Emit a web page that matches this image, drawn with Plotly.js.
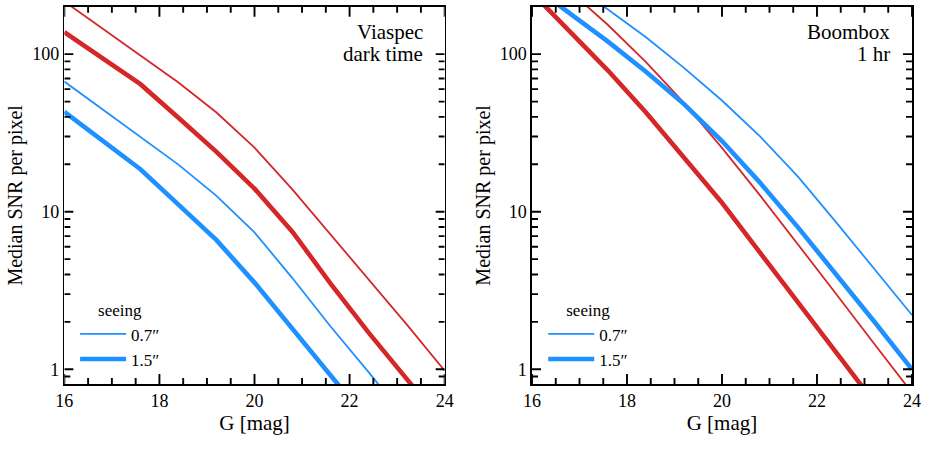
<!DOCTYPE html>
<html>
<head>
<meta charset="utf-8">
<script src="https://cdn.plot.ly/plotly-3.0.1.min.js"></script>
<style>
  html, body { margin: 0; padding: 0; background: #fff; }
  #chart { width: 927px; height: 459px; }
</style>
</head>
<body>
<div id="chart"></div>
<script>
// G magnitude grid shared by every curve
const gMag = [16, 16.8, 17.6, 18.4, 19.2, 20.0, 20.8, 21.6, 22.4, 23.2, 24.0];

// Viaspec, dark time: median SNR per pixel
const viaspec10hrSeeing07 = [216, 145, 97, 66, 42.6, 25.5, 13.8, 7.2, 3.7, 1.93, 0.98];
const viaspec10hrSeeing15 = [138, 95, 64.5, 39.5, 24, 14, 7.45, 3.5, 1.71, 0.87, 0.44];
const viaspec1hrSeeing07  = [67, 44.8, 29.8, 19.9, 12.6, 7.4, 3.78, 1.87, 0.96, 0.48, 0.24];
const viaspec1hrSeeing15  = [43, 28.4, 18.6, 11.1, 6.6, 3.55, 1.8, 0.91, 0.46, 0.23, 0.12];

// Boombox, 1 hr: median SNR per pixel
const boomboxBrightSeeing07 = [398, 251, 153, 89, 49, 25.4, 12.7, 6.24, 3.02, 1.46, 0.71];
const boomboxBrightSeeing15 = [245, 140, 78.7, 42.6, 22.1, 11.4, 5.5, 2.66, 1.29, 0.62, 0.30];
const boomboxDarkSeeing07   = [404, 284, 192, 128, 81.8, 50.8, 30.1, 16.7, 8.6, 4.35, 2.21];
const boomboxDarkSeeing15   = [273, 181, 120, 77.3, 48.2, 28.1, 15.3, 7.96, 4.04, 2.02, 1.0];

// Axis limits, tick labels and tick positions
const xLimits = [16, 24];
const yLimits = [0.807, 200];
const xTickVals = [16, 18, 20, 22, 24];
const xTickText = ['16', '18', '20', '22', '24'];
const xMinorVals = [16.5, 17, 17.5, 18.5, 19, 19.5, 20.5, 21, 21.5, 22.5, 23, 23.5];
const yTickVals = [1, 10, 100];
const yTickText = ['1', '10', '100'];
const yMinorVals = [0.9, 2, 3, 4, 5, 6, 7, 8, 9, 20, 30, 40, 50, 60, 70, 80, 90];
const seeingLabels = ['0.7\u2033', '1.5\u2033'];

const RED = '#d62728';
const BLUE = '#1e90ff';
const FONT = 'Liberation Serif, DejaVu Serif, serif';
const THIN = 1.8, THICK = 4.6;

const WIDTH = 927, HEIGHT = 459;
const X_DOMAINS = [[0.0694, 0.4797], [0.5739, 0.9838]];
const Y_DOMAIN = [0.1634, 0.9854];

function curve(y, color, width, xa, ya, opts) {
  return Object.assign({
    x: gMag, y: y, type: 'scatter', mode: 'lines',
    line: { color: color, width: width },
    xaxis: xa, yaxis: ya, showlegend: false, hoverinfo: 'skip'
  }, opts || {});
}

// Inward tick marks on the four sides of a panel, as short line segments
// whose length is converted from pixels into axis units.
function frameTicks(xa, ya, xDomain, lenMajorX, lenMajorY, lenMinor, width) {
  const pxPerMag = (xDomain[1] - xDomain[0]) * WIDTH / (xLimits[1] - xLimits[0]);
  const pxPerDex = (Y_DOMAIN[1] - Y_DOMAIN[0]) * HEIGHT / Math.log10(yLimits[1] / yLimits[0]);
  const xs = [], ys = [];
  const seg = (x0, y0, x1, y1) => { xs.push(x0, x1, null); ys.push(y0, y1, null); };
  const xTick = (v, len) => {
    const f = Math.pow(10, len / pxPerDex);
    seg(v, yLimits[0], v, yLimits[0] * f);
    seg(v, yLimits[1], v, yLimits[1] / f);
  };
  const yTick = (v, len) => {
    const d = len / pxPerMag;
    seg(xLimits[0], v, xLimits[0] + d, v);
    seg(xLimits[1], v, xLimits[1] - d, v);
  };
  xTickVals.forEach(v => xTick(v, lenMajorX));
  xMinorVals.forEach(v => xTick(v, lenMinor));
  yTickVals.forEach(v => yTick(v, lenMajorY));
  yMinorVals.forEach(v => yTick(v, lenMinor));
  return {
    x: xs, y: ys, type: 'scatter', mode: 'lines', connectgaps: false,
    line: { color: '#000', width: width, simplify: false },
    cliponaxis: false,
    xaxis: xa, yaxis: ya, showlegend: false, hoverinfo: 'skip'
  };
}

const traces = [
  curve(viaspec10hrSeeing07, RED, THIN, 'x', 'y'),
  curve(viaspec10hrSeeing15, RED, THICK, 'x', 'y'),
  curve(viaspec1hrSeeing07, BLUE, THIN, 'x', 'y', { name: seeingLabels[0], showlegend: true, legend: 'legend' }),
  curve(viaspec1hrSeeing15, BLUE, THICK, 'x', 'y', { name: seeingLabels[1], showlegend: true, legend: 'legend' }),
  frameTicks('x', 'y', X_DOMAINS[0], 10, 9, 6, 1.9),

  curve(boomboxBrightSeeing07, RED, THIN, 'x2', 'y2'),
  curve(boomboxBrightSeeing15, RED, THICK, 'x2', 'y2'),
  curve(boomboxDarkSeeing07, BLUE, THIN, 'x2', 'y2', { name: seeingLabels[0], showlegend: true, legend: 'legend2' }),
  curve(boomboxDarkSeeing15, BLUE, THICK, 'x2', 'y2', { name: seeingLabels[1], showlegend: true, legend: 'legend2' }),
  frameTicks('x2', 'y2', X_DOMAINS[1], 10, 9, 6, 1.9)
];

function xAxis(domain, anchor) {
  return {
    domain: domain, anchor: anchor, range: xLimits.slice(), type: 'linear',
    tickmode: 'array', tickvals: xTickVals, ticktext: xTickText, ticks: '',
    showline: true, linecolor: '#000', linewidth: 1.6, mirror: true,
    showgrid: false, zeroline: false,
    tickfont: { family: FONT, size: 18, color: '#000' },
    title: { text: 'G [mag]', font: { family: FONT, size: 21, color: '#000' }, standoff: 4 },
    automargin: false
  };
}

function yAxis(domain, anchor) {
  return {
    domain: domain, anchor: anchor, type: 'log',
    range: yLimits.map(Math.log10),
    tickmode: 'array', tickvals: yTickVals, ticktext: yTickText, ticks: '',
    showline: true, linecolor: '#000', linewidth: 1.6, mirror: true,
    showgrid: false, zeroline: false,
    tickfont: { family: FONT, size: 18, color: '#000' },
    title: { text: 'Median SNR per pixel', font: { family: FONT, size: 20, color: '#000' }, standoff: 4 },
    automargin: false
  };
}

function seeingLegend(x) {
  return {
    x: x, y: 0.359, xanchor: 'left', yanchor: 'top',
    bgcolor: 'rgba(0,0,0,0)', borderwidth: 0,
    font: { family: FONT, size: 17, color: '#000' },
    title: { text: 'seeing', side: 'top center', font: { family: FONT, size: 17, color: '#000' } },
    tracegroupgap: 0, itemwidth: 46
  };
}

function label(text, xref, yref, x, y, color, xanchor) {
  return {
    text: text, xref: xref, yref: yref, x: x, y: y,
    showarrow: false, align: xanchor === 'right' ? 'right' : 'center',
    xanchor: xanchor || 'center', yanchor: 'middle',
    font: { family: FONT, size: 21, color: color }
  };
}

const layout = {
  width: WIDTH, height: HEIGHT,
  margin: { l: 0, r: 0, t: 0, b: 0 },
  paper_bgcolor: '#fff', plot_bgcolor: '#fff',
  xaxis: xAxis(X_DOMAINS[0], 'y'),
  yaxis: yAxis(Y_DOMAIN, 'x'),
  xaxis2: xAxis(X_DOMAINS[1], 'y2'),
  yaxis2: yAxis(Y_DOMAIN, 'x2'),
  legend: seeingLegend(0.081),
  legend2: seeingLegend(0.586),
  annotations: [
    label('Viaspec', 'x domain', 'y domain', 0.948, 0.934, '#000', 'right'),
    label('dark time', 'x domain', 'y domain', 0.948, 0.874, '#000', 'right'),
    label('10 hr', 'x', 'y', 20.95, 31, RED),
    label('1 hr', 'x', 'y', 17.45, 10.6, BLUE),
    label('Boombox', 'x2 domain', 'y2 domain', 0.947, 0.934, '#000', 'right'),
    label('1 hr', 'x2 domain', 'y2 domain', 0.947, 0.874, '#000', 'right'),
    label('dark', 'x2', 'y2', 22.35, 30.5, BLUE),
    label('bright', 'x2', 'y2', 19.75, 5.3, RED)
  ]
};

Plotly.newPlot('chart', traces, layout, { staticPlot: true, displayModeBar: false });
</script>
</body>
</html>
